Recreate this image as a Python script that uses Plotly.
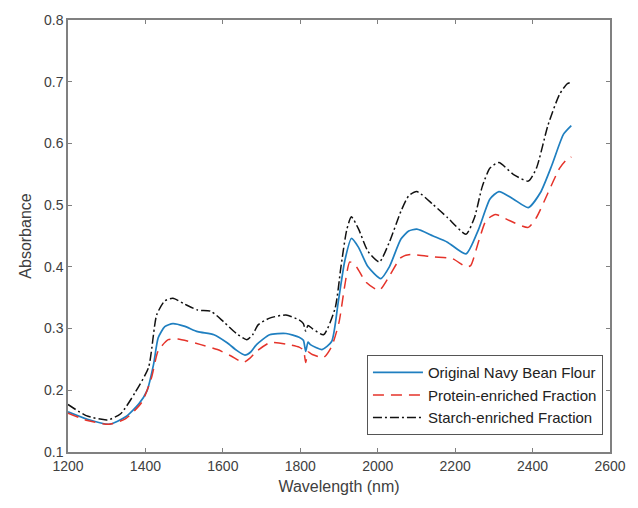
import plotly.graph_objects as go

# Original Navy Bean Flour
wl_orig = [1200, 1250, 1306, 1349, 1383, 1404, 1421, 1433, 1450, 1471, 1500, 1535, 1577, 1611, 1635, 1657, 1672, 1687, 1721, 1763, 1797, 1808, 1814, 1820, 1826, 1856, 1881, 1898, 1915, 1932, 1950, 1975, 2008, 2030, 2060, 2080, 2101, 2143, 2180, 2228, 2260, 2290, 2313, 2350, 2389, 2420, 2450, 2480, 2500]
ab_orig = [0.165, 0.153, 0.145, 0.157, 0.178, 0.199, 0.242, 0.285, 0.303, 0.308, 0.304, 0.295, 0.290, 0.277, 0.265, 0.257, 0.262, 0.274, 0.290, 0.292, 0.286, 0.281, 0.263, 0.278, 0.274, 0.266, 0.279, 0.343, 0.410, 0.446, 0.432, 0.400, 0.381, 0.400, 0.445, 0.458, 0.461, 0.450, 0.440, 0.421, 0.460, 0.510, 0.522, 0.510, 0.496, 0.520, 0.565, 0.615, 0.629]

# Protein-enriched Fraction
wl_prot = [1200, 1250, 1306, 1349, 1391, 1416, 1433, 1459, 1484, 1543, 1586, 1620, 1653, 1670, 1687, 1721, 1763, 1797, 1808, 1814, 1820, 1831, 1860, 1881, 1900, 1915, 1928, 1945, 1970, 2004, 2030, 2060, 2084, 2144, 2194, 2228, 2240, 2260, 2280, 2304, 2340, 2389, 2410, 2440, 2470, 2490, 2500]
ab_prot = [0.163, 0.151, 0.145, 0.154, 0.181, 0.221, 0.264, 0.282, 0.283, 0.274, 0.266, 0.256, 0.245, 0.252, 0.263, 0.277, 0.275, 0.270, 0.265, 0.245, 0.262, 0.258, 0.253, 0.271, 0.310, 0.370, 0.408, 0.400, 0.375, 0.362, 0.385, 0.415, 0.420, 0.416, 0.413, 0.400, 0.402, 0.440, 0.475, 0.485, 0.475, 0.464, 0.480, 0.520, 0.560, 0.575, 0.578]

# Starch-enriched Fraction
wl_star = [1200, 1247, 1302, 1336, 1374, 1408, 1429, 1450, 1471, 1500, 1535, 1569, 1602, 1635, 1662, 1677, 1691, 1721, 1763, 1797, 1808, 1814, 1820, 1831, 1860, 1890, 1905, 1920, 1932, 1950, 1975, 2004, 2030, 2060, 2080, 2101, 2143, 2180, 2228, 2250, 2270, 2290, 2313, 2350, 2389, 2410, 2440, 2470, 2490, 2500]
ab_star = [0.177, 0.159, 0.152, 0.162, 0.197, 0.237, 0.322, 0.345, 0.349, 0.340, 0.330, 0.328, 0.311, 0.292, 0.282, 0.290, 0.306, 0.317, 0.322, 0.314, 0.308, 0.296, 0.305, 0.300, 0.290, 0.333, 0.400, 0.460, 0.481, 0.462, 0.425, 0.408, 0.440, 0.490, 0.515, 0.522, 0.501, 0.480, 0.453, 0.480, 0.530, 0.560, 0.569, 0.550, 0.539, 0.560, 0.630, 0.680, 0.697, 0.699]

x_ticks = [1200, 1400, 1600, 1800, 2000, 2200, 2400, 2600]
y_ticks = [0.1, 0.2, 0.3, 0.4, 0.5, 0.6, 0.7, 0.8]

FONT = "Liberation Sans, Arial, sans-serif"

fig = go.Figure()
fig.add_trace(go.Scatter(x=wl_orig, y=ab_orig, mode="lines", name="Original Navy Bean Flour",
                         line=dict(color="#1f7fc0", width=1.7, shape="spline", smoothing=0.6)))
fig.add_trace(go.Scatter(x=wl_prot, y=ab_prot, mode="lines", name="Protein-enriched Fraction",
                         line=dict(color="#e5332a", width=1.5, dash="11px,7px", shape="spline", smoothing=0.6)))
fig.add_trace(go.Scatter(x=wl_star, y=ab_star, mode="lines", name="Starch-enriched Fraction",
                         line=dict(color="#111111", width=1.5, dash="9px,3px,2px,3px", shape="spline", smoothing=0.6)))

axis_common = dict(showline=True, linecolor="#808080", linewidth=1.5, mirror="ticks",
                   ticks="inside", ticklen=4, tickcolor="#808080", showgrid=False, zeroline=False,
                   tickfont=dict(family=FONT, size=14, color="#404040"))

fig.update_layout(
    width=638, height=508,
    margin=dict(l=68, r=18, t=15, b=56),
    paper_bgcolor="white", plot_bgcolor="white",
    showlegend=True,
    legend=dict(x=0.987, y=0.039, xanchor="right", yanchor="bottom",
                bordercolor="#555555", borderwidth=1, bgcolor="white",
                font=dict(family=FONT, size=15, color="#222222"),
                tracegroupgap=0, itemwidth=50),
    xaxis=dict(range=[1200, 2600], tickvals=x_ticks, ticktext=[str(v) for v in x_ticks],
               title=dict(text="Wavelength (nm)", font=dict(family=FONT, size=16, color="#404040"), standoff=8),
               **axis_common),
    yaxis=dict(range=[0.1, 0.8], tickvals=y_ticks, ticktext=[f"{v:.1f}" for v in y_ticks],
               title=dict(text="Absorbance", font=dict(family=FONT, size=16, color="#404040"), standoff=8),
               **axis_common),
)

fig.write_html("out.html")
